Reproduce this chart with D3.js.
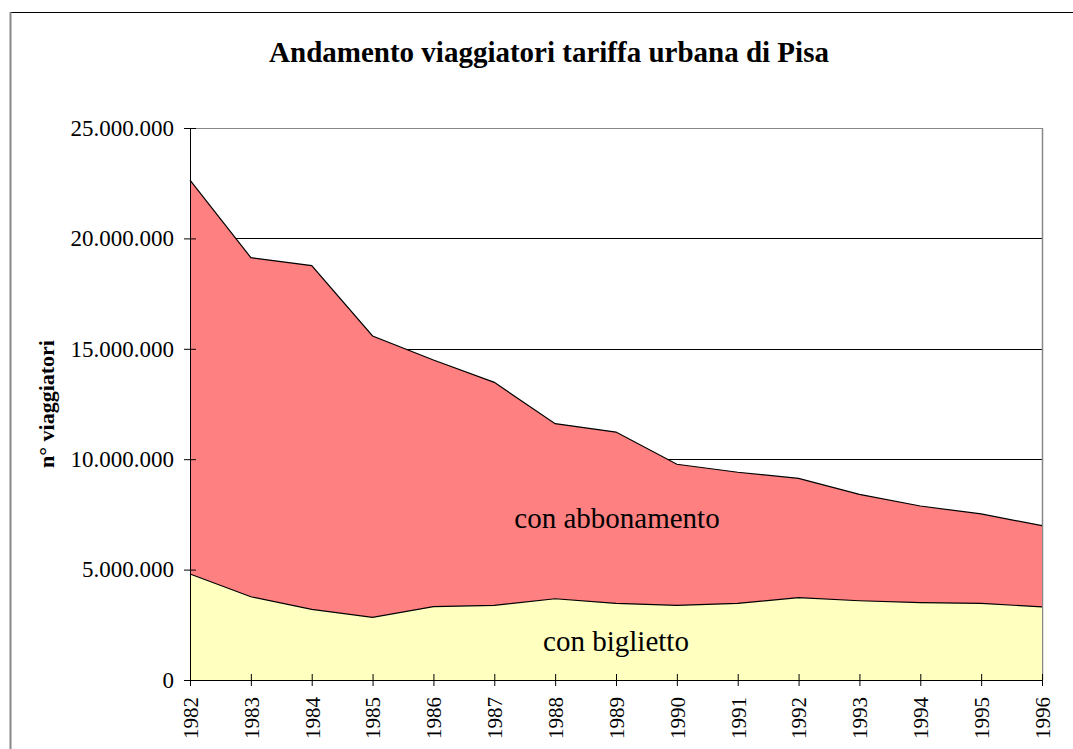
<!DOCTYPE html>
<html>
<head>
<meta charset="utf-8">
<script src="https://cdn.jsdelivr.net/npm/d3@7"></script>
<style>
  body { margin: 0; background: #fff; }
  svg { display: block; }
  svg text { font-family: "Liberation Serif", "Times New Roman", serif; }
</style>
</head>
<body>
<div id="chart"></div>
<script>
// data
var years = [1982, 1983, 1984, 1985, 1986, 1987, 1988, 1989, 1990, 1991, 1992, 1993, 1994, 1995, 1996];
var biglietto = [4800000, 3770000, 3200000, 2840000, 3320000, 3380000, 3680000, 3470000, 3380000, 3470000, 3730000, 3590000, 3500000, 3470000, 3310000];
var abbonamento = [17840000, 15360000, 15570000, 12740000, 11170000, 10100000, 7930000, 7760000, 6390000, 5940000, 5400000, 4820000, 4380000, 4050000, 3680000];
var yTicks = [0, 5000000, 10000000, 15000000, 20000000, 25000000];

var W = 1073, H = 749;
var margin = {top: 128, right: 31, bottom: 69, left: 190};
var width = W - margin.left - margin.right;
var height = H - margin.top - margin.bottom;

var rows = years.map(function(y, i) {
  return {year: y, biglietto: biglietto[i], abbonamento: abbonamento[i]};
});

var svg = d3.select("#chart").append("svg")
  .attr("width", W)
  .attr("height", H);

// outer frame
svg.append("rect")
  .attr("x", 10.5).attr("y", 12.5)
  .attr("width", W + 20).attr("height", H + 20)
  .attr("fill", "none")
  .attr("stroke", "#000");
svg.append("line")
  .attr("x1", 10.5).attr("x2", 10.5).attr("y1", 12).attr("y2", H)
  .attr("stroke", "#888").attr("stroke-width", 2);

svg.append("text")
  .attr("x", 549).attr("y", 62)
  .attr("text-anchor", "middle")
  .attr("font-size", 29)
  .attr("font-weight", "bold")
  .text("Andamento viaggiatori tariffa urbana di Pisa");

var g = svg.append("g")
  .attr("transform", `translate(${margin.left}, ${margin.top})`);

var x = d3.scaleLinear()
  .domain([years[0], years[years.length - 1]])
  .range([0, width]);

var y = d3.scaleLinear()
  .domain([0, 25000000])
  .range([height, 0]);

// gridlines
g.append("g")
  .selectAll("line")
  .data(yTicks.slice(1))
  .join("line")
  .attr("x1", 0).attr("x2", width)
  .attr("y1", d => Math.round(y(d)) + 0.5)
  .attr("y2", d => Math.round(y(d)) + 0.5)
  .attr("stroke", d => d === 25000000 ? "#888" : "#000")
  .attr("stroke-width", 1);

// right border of plot
g.append("line")
  .attr("x1", width + 0.5).attr("x2", width + 0.5)
  .attr("y1", 0).attr("y2", height)
  .attr("stroke", "#888").attr("stroke-width", 1.5);

var stack = d3.stack().keys(["biglietto", "abbonamento"]);
var series = stack(rows);
var colors = {biglietto: "#FFFFC0", abbonamento: "#FF8080"};

var area = d3.area()
  .x(d => x(d.data.year))
  .y0(d => y(d[0]))
  .y1(d => y(d[1]));

g.append("g")
  .selectAll("path")
  .data(series)
  .join("path")
  .attr("d", area)
  .attr("fill", d => colors[d.key]);

// top outlines
var topLine = d3.line()
  .x(d => x(d.data.year))
  .y(d => y(d[1]));

g.append("g")
  .selectAll("path")
  .data(series)
  .join("path")
  .attr("d", topLine)
  .attr("fill", "none")
  .attr("stroke", "#000")
  .attr("stroke-width", 1.2);

// y axis
var yAxis = g.append("g")
  .call(d3.axisLeft(y)
    .tickValues(yTicks)
    .tickSize(6)
    .tickPadding(10)
    .tickFormat(d => d3.format(",")(d).replace(/,/g, ".")));
yAxis.select(".domain").attr("stroke", "#000").attr("d", `M0.5,0V${height}`);
yAxis.selectAll(".tick line").attr("x1", 6).attr("x2", -6);
yAxis.selectAll("text")
  .attr("font-size", 23)
  .attr("font-family", null)
  .attr("fill", "#000");
yAxis.attr("font-family", null).attr("font-size", null);

// x axis
var xAxis = g.append("g")
  .attr("transform", `translate(0, ${height})`)
  .call(d3.axisBottom(x)
    .tickValues(years)
    .tickSize(6)
    .tickFormat(d3.format("d")));
xAxis.attr("font-family", null).attr("font-size", null);
xAxis.select(".domain").attr("stroke", "#000").attr("d", `M0,0.5H${width}`);
xAxis.selectAll(".tick line").attr("y1", -6).attr("y2", 6);
xAxis.selectAll("text")
  .attr("font-size", 21)
  .attr("fill", "#000")
  .attr("transform", "rotate(-90)")
  .attr("x", -17)
  .attr("y", 0)
  .attr("dy", "0.35em")
  .style("text-anchor", "end");

// y label
svg.append("text")
  .attr("transform", "translate(54, 404) rotate(-90)")
  .attr("text-anchor", "middle")
  .attr("font-size", 22)
  .attr("font-weight", "bold")
  .text("n° viaggiatori");

// series labels
svg.append("text")
  .attr("x", 617).attr("y", 528)
  .attr("text-anchor", "middle")
  .attr("font-size", 29)
  .text("con abbonamento");

svg.append("text")
  .attr("x", 616).attr("y", 651)
  .attr("text-anchor", "middle")
  .attr("font-size", 29)
  .text("con biglietto");
</script>
</body>
</html>
